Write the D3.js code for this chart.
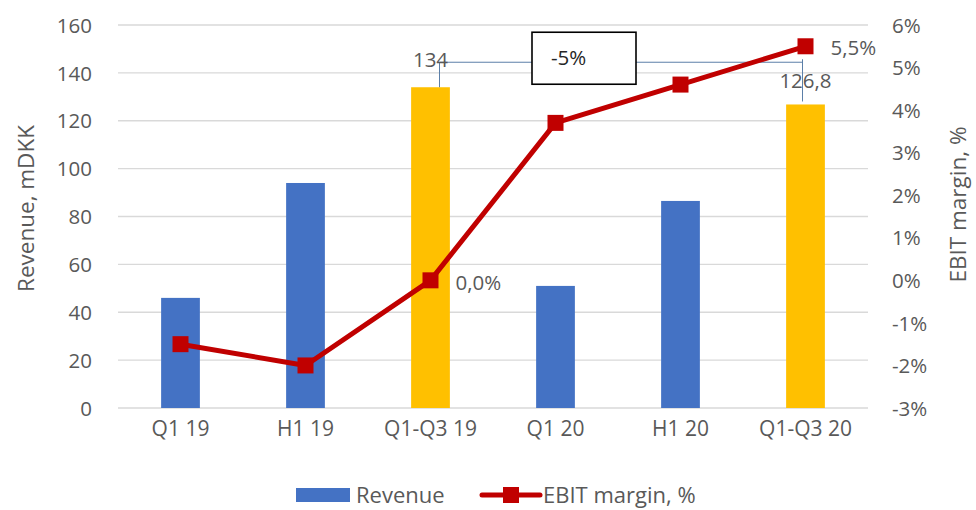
<!DOCTYPE html>
<html>
<head>
<meta charset="utf-8">
<script src="https://cdn.jsdelivr.net/npm/d3@7"></script>
<style>
	body { margin: 0; background: #fff; }
	svg text { font-family: "Open Sans", "Noto Sans", sans-serif; fill: #595959; }
</style>
</head>
<body>
<div id="chart"></div>
<script>
let categories = ["Q1 19", "H1 19", "Q1-Q3 19", "Q1 20", "H1 20", "Q1-Q3 20"];
let revenue = [46, 94, 134, 51, 86.5, 126.8];
let ebitMargin = [-1.5, -2.0, 0.0, 3.7, 4.6, 5.5];
let highlighted = ["Q1-Q3 19", "Q1-Q3 20"];
let leftTicks = [0, 20, 40, 60, 80, 100, 120, 140, 160];
let rightTicks = [-3, -2, -1, 0, 1, 2, 3, 4, 5, 6];
let changeLabel = "-5%";

let drawChart = function(parent) {
	let W = 976, H = 510;
	let margin = { top: 25, right: 108, bottom: 102, left: 118 };
	let width = W - margin.left - margin.right;
	let height = H - margin.top - margin.bottom;
	let tickFont = "20.5px";

	let svg = d3.select(parent).append("svg")
		.attr("width", W)
		.attr("height", H);

	let g = svg.append("g")
		.attr("transform", `translate(${margin.left}, ${margin.top})`);

	//scales
	let x = d3.scaleBand().domain(categories).range([0, width]).paddingInner(0.69).paddingOuter(0.345);
	let y = d3.scaleLinear().domain([0, 160]).range([height, 0]);
	let y2 = d3.scaleLinear().domain([-3, 6]).range([height, 0]);
	let cx = d => x(d) + x.bandwidth() / 2;

	//gridlines
	g.selectAll("line.grid")
		.data(leftTicks)
		.enter()
		.append("line")
		.attr("class", "grid")
		.attr("x1", 0)
		.attr("x2", width)
		.attr("y1", d => y(d))
		.attr("y2", d => y(d))
		.attr("stroke", "#d9d9d9")
		.attr("stroke-width", 1.3);

	//left axis
	let leftAxis = g.append("g")
		.call(d3.axisLeft(y).tickValues(leftTicks).tickSize(0).tickPadding(26));
	leftAxis.select(".domain").remove();
	leftAxis.selectAll("text").style("font-size", tickFont).attr("dy", "0.35em");

	//right axis
	let rightAxis = g.append("g")
		.attr("transform", `translate(${width}, 0)`)
		.call(d3.axisRight(y2).tickValues(rightTicks).tickSize(0).tickPadding(24).tickFormat(d => d + "%"));
	rightAxis.select(".domain").remove();
	rightAxis.selectAll("text").style("font-size", tickFont).attr("dy", "0.35em");

	//bottom axis
	let bottomAxis = g.append("g")
		.attr("transform", `translate(0, ${height})`)
		.call(d3.axisBottom(x).tickSize(0).tickPadding(13));
	bottomAxis.select(".domain").remove();
	bottomAxis.selectAll("text").style("font-size", "21px");

	//bars
	g.selectAll("rect.bar")
		.data(categories)
		.enter()
		.append("rect")
		.attr("class", "bar")
		.attr("x", d => x(d))
		.attr("width", x.bandwidth())
		.attr("y", (d, i) => y(revenue[i]))
		.attr("height", (d, i) => height - y(revenue[i]))
		.attr("fill", d => highlighted.includes(d) ? "#ffc000" : "#4472c4");

	//bracket between highlighted bars
	let iA = categories.indexOf(highlighted[0]);
	let iB = categories.indexOf(highlighted[1]);
	let xa = cx(highlighted[0]) + 9;
	let xb = cx(highlighted[1]) - 3;
	let yTop = y(134) - 25;
	let bracket = g.append("g").attr("stroke", "#5b7fa8").attr("stroke-width", 1).attr("fill", "none");
	bracket.append("line").attr("x1", xa).attr("x2", xa).attr("y1", y(revenue[iA])).attr("y2", yTop);
	bracket.append("line").attr("x1", xa).attr("x2", xb).attr("y1", yTop).attr("y2", yTop);
	bracket.append("line").attr("x1", xb).attr("x2", xb).attr("y1", yTop - 3).attr("y2", y(revenue[iB]) - 3);

	//change box
	let boxX = (xa + xb) / 2 - 37;
	g.append("rect")
		.attr("x", boxX - 52)
		.attr("y", yTop - 30)
		.attr("width", 104)
		.attr("height", 52)
		.attr("fill", "#fff")
		.attr("stroke", "#000")
		.attr("stroke-width", 1.6);
	g.append("text")
		.attr("x", boxX - 33)
		.attr("y", yTop - 4)
		.attr("dy", "0.35em")
		.style("font-size", "20.5px")
		.style("fill", "#262626")
		.text(changeLabel);

	//revenue labels
	g.append("text")
		.attr("x", cx(highlighted[0]))
		.attr("y", y(revenue[iA]) - 27)
		.attr("text-anchor", "middle")
		.attr("dy", "0.35em")
		.style("font-size", tickFont)
		.text("134");
	g.append("text")
		.attr("x", cx(highlighted[1]))
		.attr("y", y(revenue[iB]) - 24)
		.attr("text-anchor", "middle")
		.attr("dy", "0.35em")
		.style("font-size", tickFont)
		.text("126,8");

	//EBIT line
	let line = d3.line()
		.x((d, i) => cx(categories[i]))
		.y(d => y2(d));
	g.append("path")
		.attr("d", line(ebitMargin))
		.attr("fill", "none")
		.attr("stroke", "#c00000")
		.attr("stroke-width", 5)
		.attr("stroke-linejoin", "round");
	g.selectAll("rect.marker")
		.data(ebitMargin)
		.enter()
		.append("rect")
		.attr("class", "marker")
		.attr("x", (d, i) => cx(categories[i]) - 8)
		.attr("y", d => y2(d) - 8)
		.attr("width", 16)
		.attr("height", 16)
		.attr("fill", "#c00000");

	//margin labels
	let fmt = d => d.toFixed(1).replace(".", ",") + "%";
	g.append("text")
		.attr("x", cx(categories[2]) + 25)
		.attr("y", y2(ebitMargin[2]) + 2)
		.attr("dy", "0.35em")
		.style("font-size", tickFont)
		.text(fmt(ebitMargin[2]));
	g.append("text")
		.attr("x", cx(categories[5]) + 25)
		.attr("y", y2(ebitMargin[5]) + 2)
		.attr("dy", "0.35em")
		.style("font-size", tickFont)
		.text(fmt(ebitMargin[5]));

	//axis titles
	svg.append("text")
		.attr("transform", `translate(34, ${margin.top + height / 2 - 8}) rotate(-90)`)
		.attr("text-anchor", "middle")
		.style("font-size", "22.5px")
		.text("Revenue, mDKK");
	svg.append("text")
		.attr("transform", `translate(966, ${margin.top + height / 2 - 12}) rotate(-90)`)
		.attr("text-anchor", "middle")
		.style("font-size", "22.5px")
		.text("EBIT margin, %");

	//legend
	let ly = 495;
	svg.append("rect").attr("x", 296).attr("y", ly - 7).attr("width", 54).attr("height", 14).attr("fill", "#4472c4");
	svg.append("text").attr("x", 356).attr("y", ly).attr("dy", "0.35em").style("font-size", "22px").text("Revenue");
	svg.append("line").attr("x1", 482).attr("x2", 540).attr("y1", ly).attr("y2", ly)
		.attr("stroke", "#c00000").attr("stroke-width", 5).attr("stroke-linecap", "round");
	svg.append("rect").attr("x", 503).attr("y", ly - 8).attr("width", 16).attr("height", 16).attr("fill", "#c00000");
	svg.append("text").attr("x", 543).attr("y", ly).attr("dy", "0.35em").style("font-size", "22px").text("EBIT margin, %");

	return svg.node();
};

drawChart(d3.select("#chart").node());
</script>
</body>
</html>
